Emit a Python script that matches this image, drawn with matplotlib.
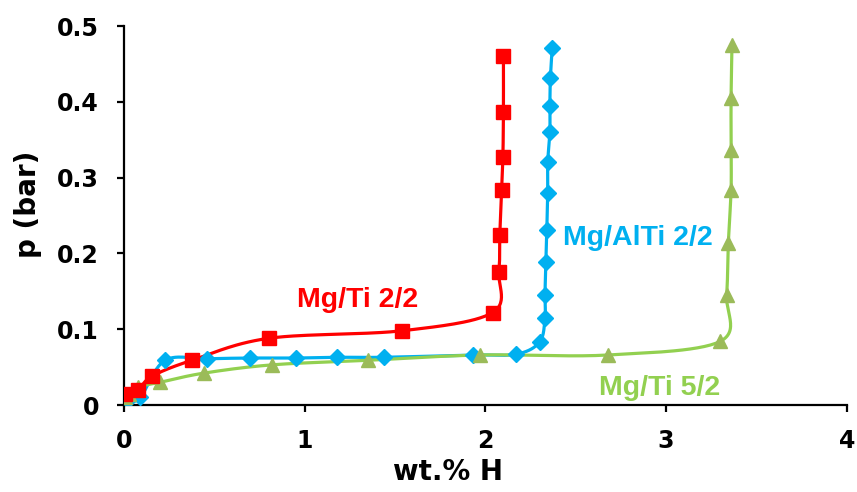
import numpy as np
import matplotlib.pyplot as plt

plt.rcParams['font.family'] = ['DejaVu Sans']
plt.rcParams['font.weight'] = 'bold'

# Mg/Ti 2/2
red_x = [0.006, 0.077, 0.155, 0.376, 0.80, 1.54, 2.04, 2.075, 2.08, 2.09, 2.097, 2.10, 2.10]
red_y = [0.0145, 0.020, 0.038, 0.059, 0.088, 0.098, 0.122, 0.175, 0.224, 0.284, 0.327, 0.387, 0.460]

# Mg/AlTi 2/2
blue_x = [0.02, 0.09, 0.227, 0.46, 0.70, 0.95, 1.18, 1.44, 1.93, 2.17, 2.30, 2.33, 2.33,
          2.335, 2.34, 2.345, 2.345, 2.357, 2.357, 2.36, 2.37]
blue_y = [0.006, 0.010, 0.059, 0.061, 0.062, 0.062, 0.063, 0.063, 0.066, 0.067, 0.083, 0.115, 0.145,
          0.189, 0.231, 0.280, 0.320, 0.360, 0.394, 0.431, 0.471]

# Mg/Ti 5/2
green_x = [0.006, 0.03, 0.08, 0.2, 0.44, 0.82, 1.35, 1.97, 2.68, 3.30,
           3.335, 3.345, 3.36, 3.36, 3.36, 3.365]
green_y = [0.010, 0.015, 0.024, 0.030, 0.042, 0.053, 0.059, 0.066, 0.066, 0.084,
           0.145, 0.214, 0.284, 0.336, 0.405, 0.475]

xticks = [0, 1, 2, 3, 4]
yticks = [0, 0.1, 0.2, 0.3, 0.4, 0.5]
yticklabels = ['0', '0.1', '0.2', '0.3', '0.4', '0.5']


def smooth(xs, ys, n=30):
    # excel-like smoothed line: bezier segments with catmull-rom tangents
    p = np.column_stack([xs, ys]) * np.array([1.0, 8.0])
    out = []
    for i in range(len(p) - 1):
        p0 = p[i - 1] if i > 0 else p[i]
        p1, p2 = p[i], p[i + 1]
        p3 = p[i + 2] if i + 2 < len(p) else p[i + 1]
        c1 = p1 + (p2 - p0) / 6.0
        c2 = p2 - (p3 - p1) / 6.0
        t = np.linspace(0, 1, n)[:, None]
        seg = (1 - t) ** 3 * p1 + 3 * (1 - t) ** 2 * t * c1 + 3 * (1 - t) * t ** 2 * c2 + t ** 3 * p2
        out.append(seg)
    out = np.vstack(out) / np.array([1.0, 8.0])
    return out[:, 0], out[:, 1]


fig = plt.figure(figsize=(8.57, 4.92), dpi=100)
ax = fig.add_axes([0.1447, 0.1768, 0.8433, 0.7702])

series = [
    (blue_x, blue_y, '#00B0F0', '#00B0F0', 'D', 8),
    (green_x, green_y, '#92D050', '#9BBB59', '^', 10),
    (red_x, red_y, '#FF0000', '#FF0000', 's', 9.5),
]
for xs, ys, lc, mc, mk, ms in series:
    sx, sy = smooth(xs, ys)
    ax.plot(sx, sy, color=lc, lw=2.3, zorder=2)
    ax.plot(xs, ys, ls='none', marker=mk, ms=ms, color=mc, mec=mc, zorder=3)

lab = dict(fontsize=20.5, fontweight='bold', family=['Liberation Sans', 'DejaVu Sans'], va='baseline')
ax.text(1.295, 0.129, 'Mg/Ti 2/2', color='#FF0000', ha='center', **lab)
ax.text(2.43, 0.211, 'Mg/AlTi 2/2', color='#00B0F0', ha='left', **lab)
ax.text(2.965, 0.013, 'Mg/Ti 5/2', color='#92D050', ha='center', **lab)

ax.set_xlim(0, 4)
ax.set_ylim(0, 0.5)
ax.set_xticks(xticks)
ax.set_xticklabels([str(v) for v in xticks])
ax.set_yticks(yticks)
ax.set_yticklabels(yticklabels)
ax.spines['top'].set_visible(False)
ax.spines['right'].set_visible(False)
for s in ['left', 'bottom']:
    ax.spines[s].set_linewidth(1.6)
ax.tick_params(axis='both', which='major', labelsize=17, width=1.6, length=5, direction='out')
ax.tick_params(axis='y', pad=13)
ax.tick_params(axis='x', pad=12)
for t in ax.get_xticklabels() + ax.get_yticklabels():
    t.set_fontweight('bold')
ax.set_xlabel('wt.% H', fontsize=20, fontweight='bold')
ax.set_ylabel('p (bar)', fontsize=20, fontweight='bold')
ax.xaxis.set_label_coords(0.448, -0.14)
ax.yaxis.set_label_coords(-0.113, 0.53)

fig.savefig('out.png', dpi=100)
